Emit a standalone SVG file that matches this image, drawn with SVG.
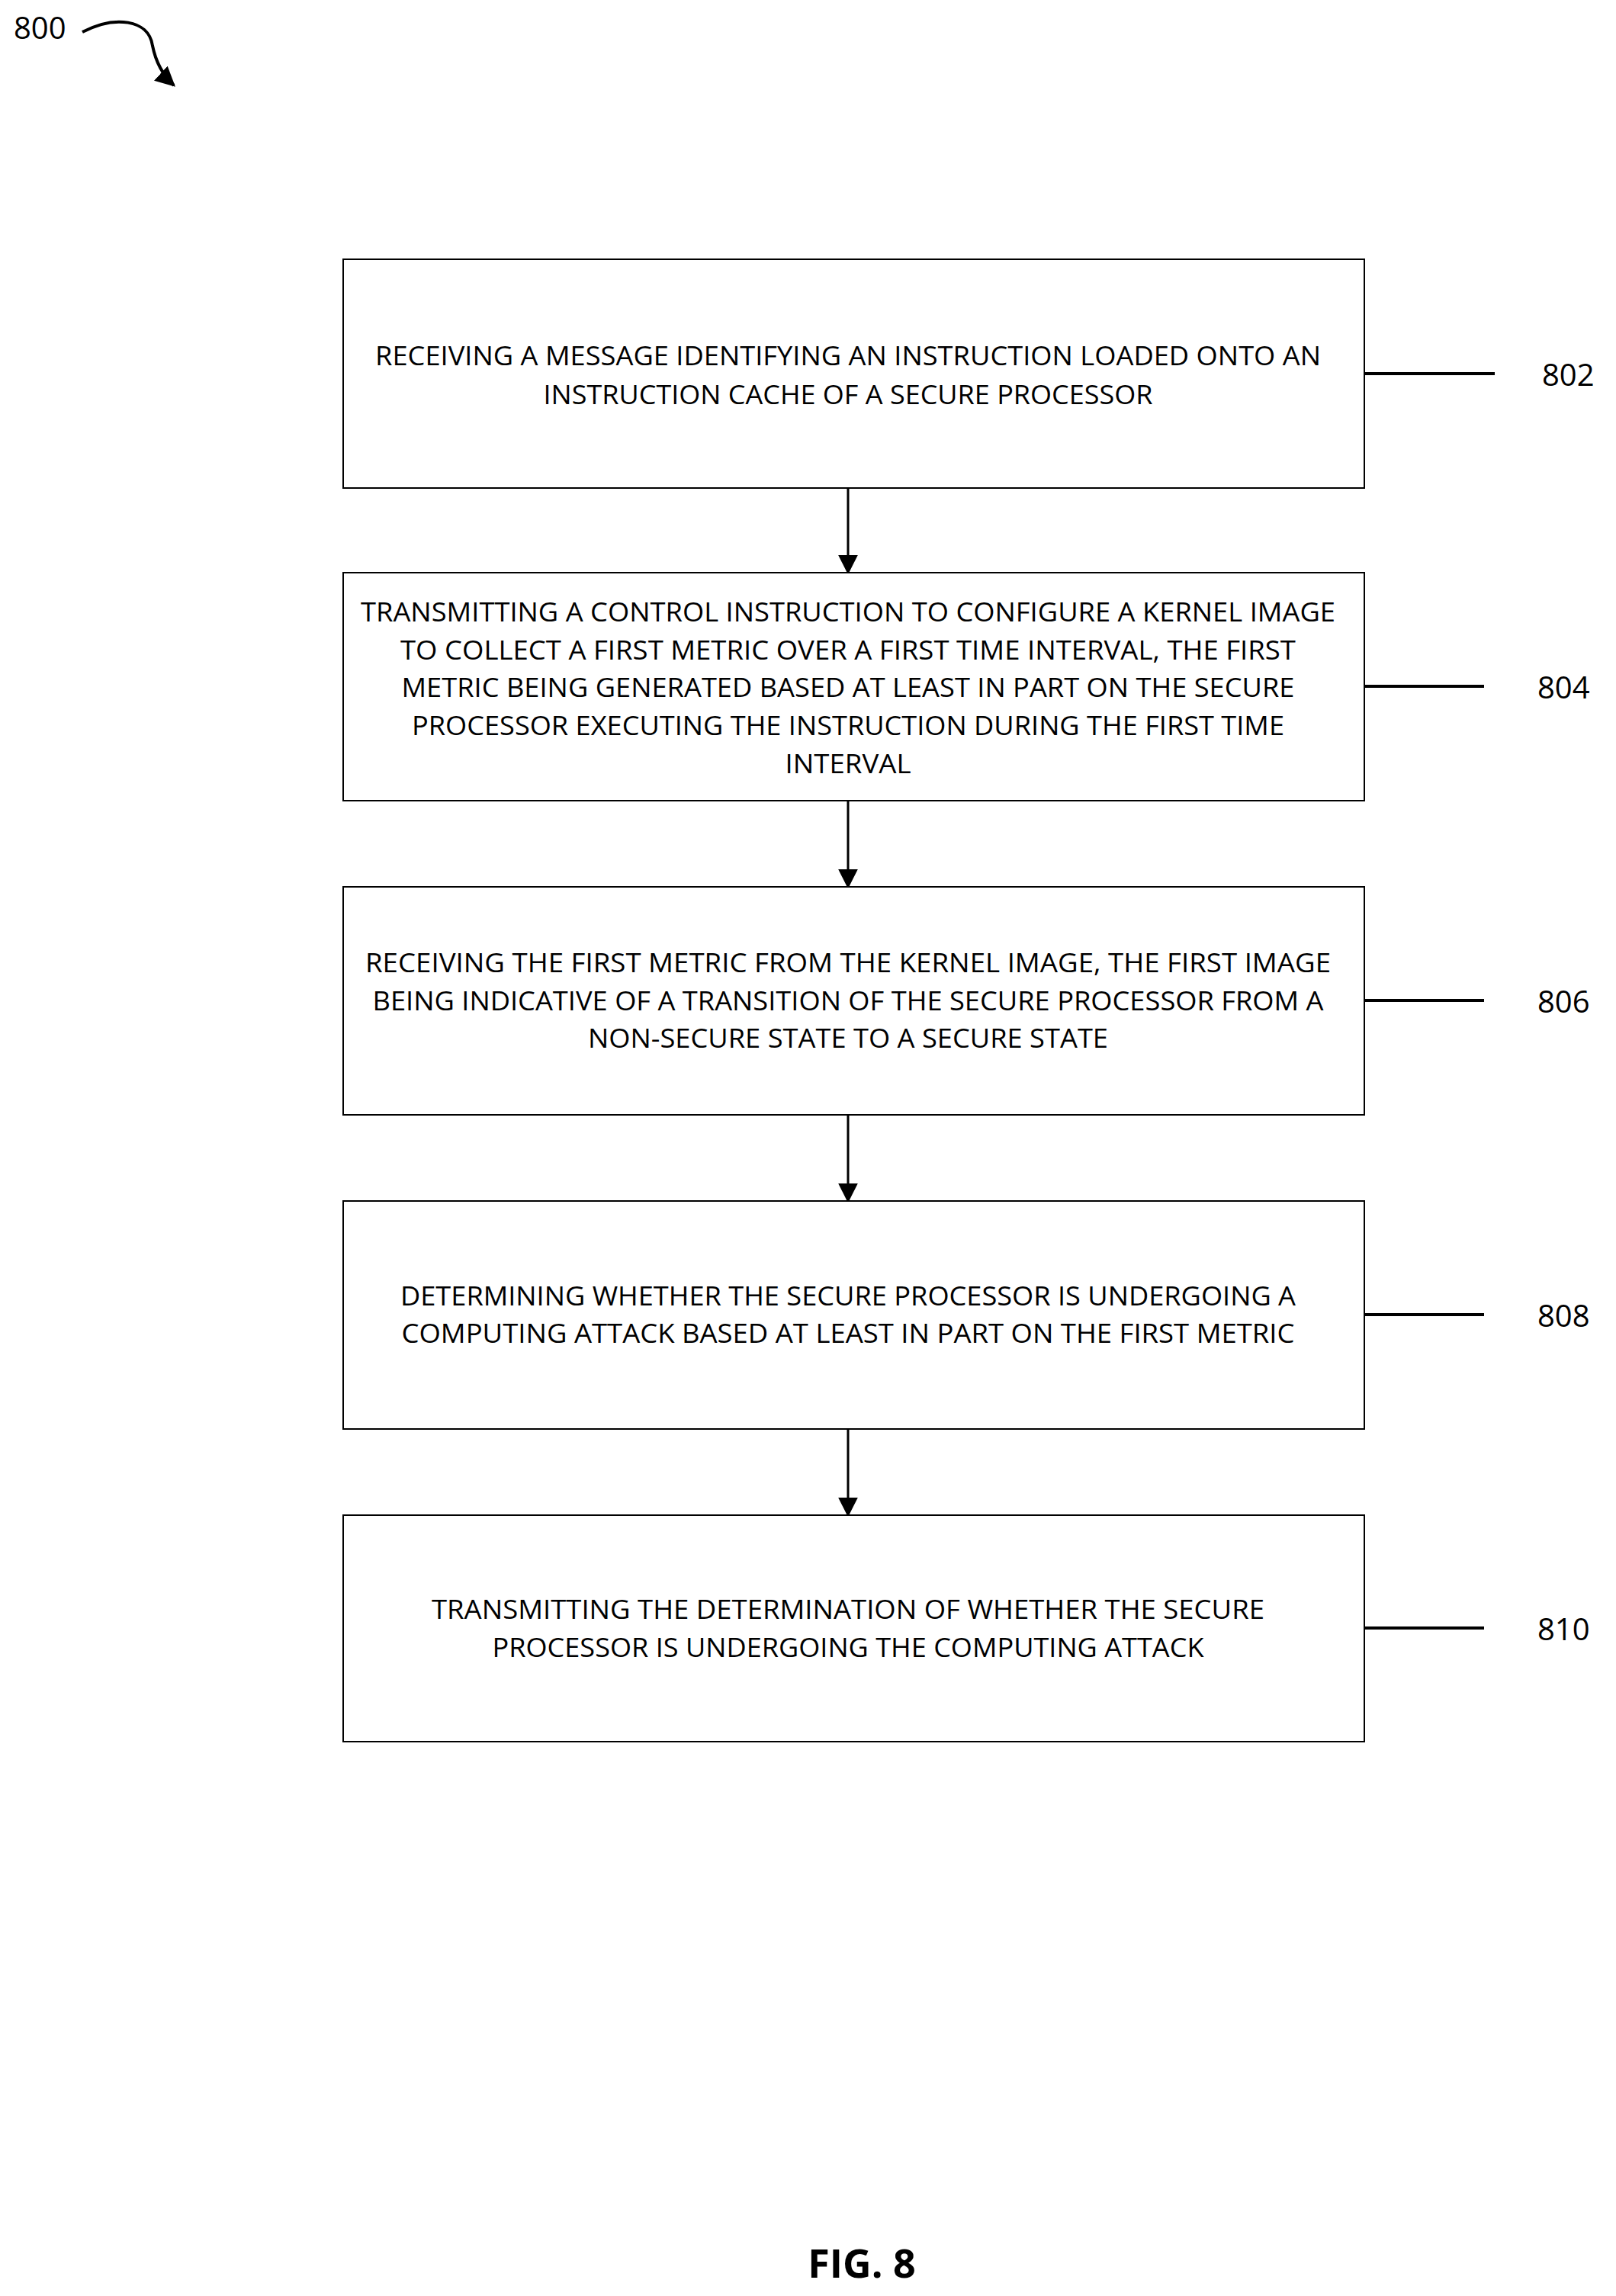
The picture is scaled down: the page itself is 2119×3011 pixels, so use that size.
<svg xmlns="http://www.w3.org/2000/svg" width="2119" height="3011" viewBox="0 0 2119 3011">
<style>
.box{fill:#fff;stroke:#000;stroke-width:2}
.t{font-family:"Open Sans","Liberation Sans",sans-serif;font-size:35px;text-anchor:middle;dominant-baseline:central}
.ref{font-family:"Open Sans","Liberation Sans",sans-serif;font-size:40px;dominant-baseline:central}
.lead{stroke:#000;stroke-width:4}
.conn{stroke:#000;stroke-width:3;fill:none;marker-end:url(#ah)}
</style>
<defs><marker id="ah" markerWidth="10" markerHeight="10" refX="9" refY="5" orient="auto" markerUnits="userSpaceOnUse" viewBox="0 0 10 10"><path d="M0,0 L10,5 L0,10 z" fill="#000"/></marker>
<marker id="ah2" viewBox="0 0 10 10" refX="9" refY="5" markerWidth="26" markerHeight="26" markerUnits="userSpaceOnUse" orient="auto"><path d="M0,0 L10,5 L0,10 z" fill="#000"/></marker></defs>
<rect width="2119" height="3011" fill="#fff"/>
<g id="label800"><text class="ref" x="18" y="35">800</text>
<path d="M108,42 C150,20 195,25 200,60 C205,85 215,100 228,112" stroke="#000" stroke-width="4" fill="none" marker-end="url(#ah2)"/></g>
<g id="conns">
<line class="conn" x1="1112" y1="640" x2="1112" y2="751" style="marker-end:url(#ah2)"/>
<line class="conn" x1="1112" y1="1050" x2="1112" y2="1163" style="marker-end:url(#ah2)"/>
<line class="conn" x1="1112" y1="1462" x2="1112" y2="1575" style="marker-end:url(#ah2)"/>
<line class="conn" x1="1112" y1="1874" x2="1112" y2="1987" style="marker-end:url(#ah2)"/>
</g>
<g id="n802"><rect class="box" x="450" y="340" width="1339" height="300"/>
<text class="t" x="1112" y="465" textLength="1240" lengthAdjust="spacingAndGlyphs">RECEIVING A MESSAGE IDENTIFYING AN INSTRUCTION LOADED ONTO AN</text>
<text class="t" x="1112" y="516" textLength="799" lengthAdjust="spacingAndGlyphs">INSTRUCTION CACHE OF A SECURE PROCESSOR</text>
<line class="lead" x1="1789" y1="490" x2="1960" y2="490"/><text class="ref" x="2022" y="490">802</text></g>
<g id="n804"><rect class="box" x="450" y="751" width="1339" height="299"/>
<text class="t" x="1112" y="801" textLength="1278" lengthAdjust="spacingAndGlyphs">TRANSMITTING A CONTROL INSTRUCTION TO CONFIGURE A KERNEL IMAGE</text>
<text class="t" x="1112" y="851" textLength="1174" lengthAdjust="spacingAndGlyphs">TO COLLECT A FIRST METRIC OVER A FIRST TIME INTERVAL, THE FIRST</text>
<text class="t" x="1112" y="900" textLength="1171" lengthAdjust="spacingAndGlyphs">METRIC BEING GENERATED BASED AT LEAST IN PART ON THE SECURE</text>
<text class="t" x="1112" y="950" textLength="1144" lengthAdjust="spacingAndGlyphs">PROCESSOR EXECUTING THE INSTRUCTION DURING THE FIRST TIME</text>
<text class="t" x="1112" y="1000" textLength="165" lengthAdjust="spacingAndGlyphs">INTERVAL</text>
<line class="lead" x1="1789" y1="900" x2="1946" y2="900"/><text class="ref" x="2016" y="900">804</text></g>
<g id="n806"><rect class="box" x="450" y="1163" width="1339" height="299"/>
<text class="t" x="1112" y="1261" textLength="1266" lengthAdjust="spacingAndGlyphs">RECEIVING THE FIRST METRIC FROM THE KERNEL IMAGE, THE FIRST IMAGE</text>
<text class="t" x="1112" y="1311" textLength="1247" lengthAdjust="spacingAndGlyphs">BEING INDICATIVE OF A TRANSITION OF THE SECURE PROCESSOR FROM A</text>
<text class="t" x="1112" y="1360" textLength="682" lengthAdjust="spacingAndGlyphs">NON-SECURE STATE TO A SECURE STATE</text>
<line class="lead" x1="1789" y1="1312" x2="1946" y2="1312"/><text class="ref" x="2016" y="1312">806</text></g>
<g id="n808"><rect class="box" x="450" y="1575" width="1339" height="299"/>
<text class="t" x="1112" y="1698" textLength="1174" lengthAdjust="spacingAndGlyphs">DETERMINING WHETHER THE SECURE PROCESSOR IS UNDERGOING A</text>
<text class="t" x="1112" y="1747" textLength="1171" lengthAdjust="spacingAndGlyphs">COMPUTING ATTACK BASED AT LEAST IN PART ON THE FIRST METRIC</text>
<line class="lead" x1="1789" y1="1724" x2="1946" y2="1724"/><text class="ref" x="2016" y="1724">808</text></g>
<g id="n810"><rect class="box" x="450" y="1987" width="1339" height="297"/>
<text class="t" x="1112" y="2109" textLength="1092" lengthAdjust="spacingAndGlyphs">TRANSMITTING THE DETERMINATION OF WHETHER THE SECURE</text>
<text class="t" x="1112" y="2159" textLength="933" lengthAdjust="spacingAndGlyphs">PROCESSOR IS UNDERGOING THE COMPUTING ATTACK</text>
<line class="lead" x1="1789" y1="2135" x2="1946" y2="2135"/><text class="ref" x="2016" y="2135">810</text></g>
<text x="1130" y="2966" font-family="Open Sans,Liberation Sans,sans-serif" font-weight="bold" font-size="52" text-anchor="middle" dominant-baseline="central">FIG. 8</text>
</svg>
